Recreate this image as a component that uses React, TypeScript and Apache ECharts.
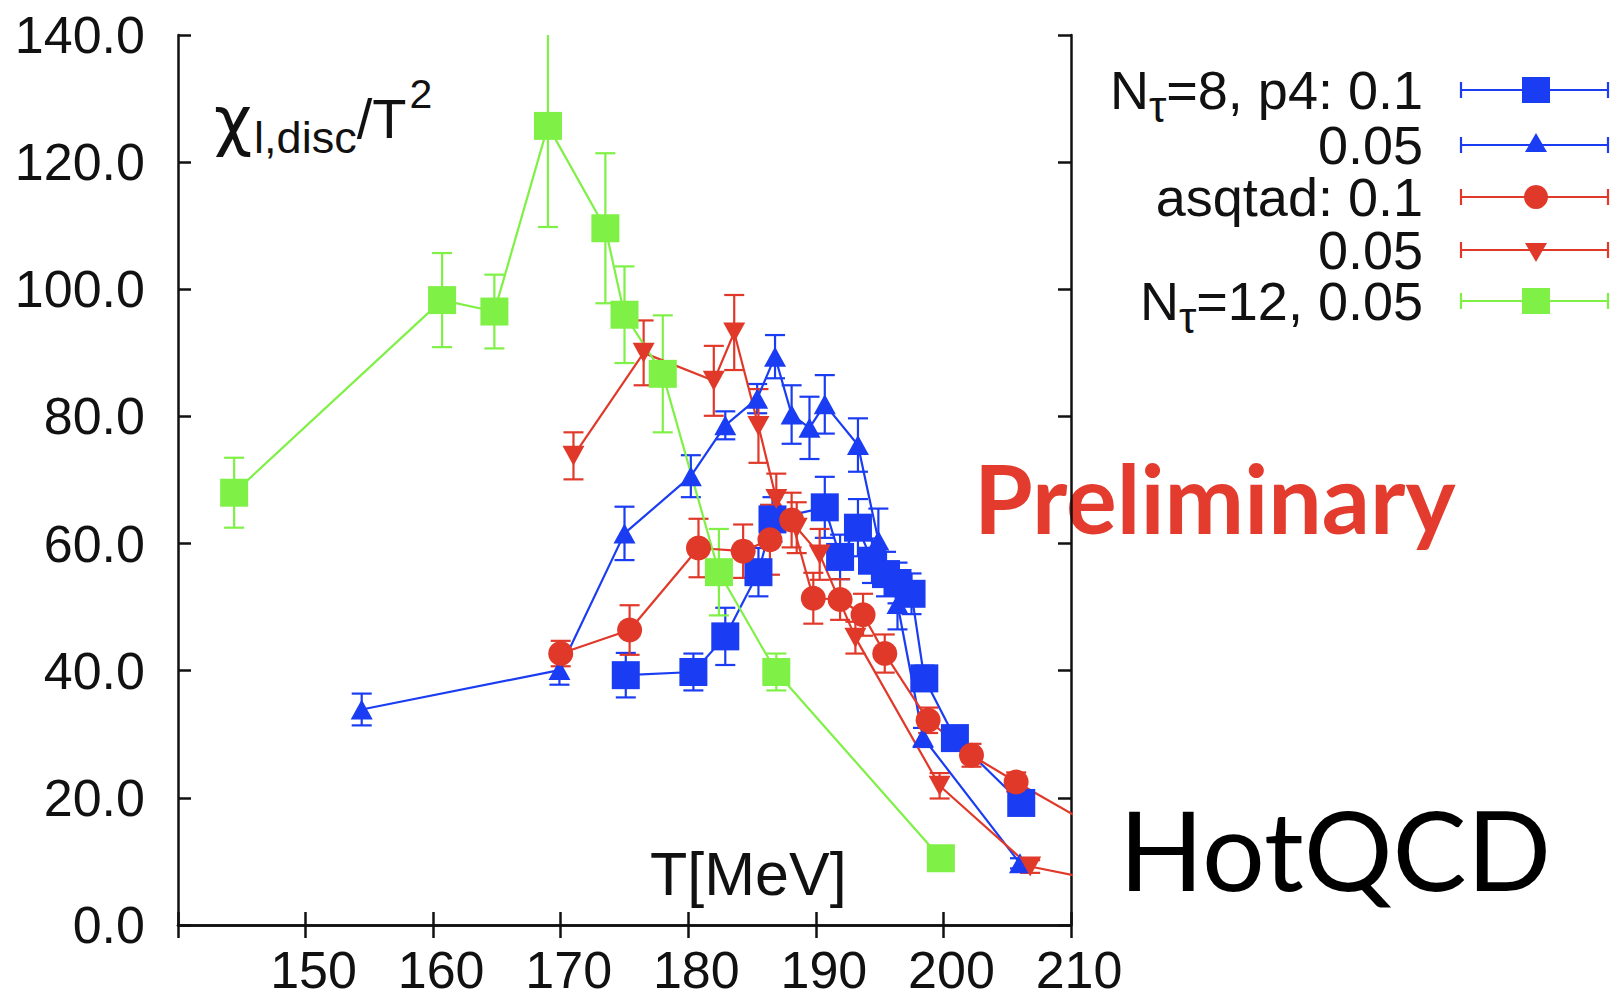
import React, { useEffect, useRef } from 'react';
import * as echarts from 'echarts';

const FONT = '"Liberation Sans", Arial, Helvetica, sans-serif';
const CHI_FONT = '"DejaVu Sans", "Liberation Sans", sans-serif';

// N_tau=8, p4, ml/ms = 0.1  (blue squares)
const p4a_T = [175.1, 180.4, 182.9, 185.5, 186.6, 190.7, 191.9, 193.3, 194.4, 195.5, 196.4, 197.5, 198.5, 200.9, 206.1];
const p4a_chi = [39.3, 39.8, 45.4, 55.5, 63.8, 65.7, 57.9, 62.5, 57.3, 55.2, 53.8, 52.1, 38.8, 29.4, 19.2];
const p4a_err = [3.5, 2.9, 4.5, 3.8, 3.5, 4.8, 3.5, 4.5, 3.5, 3.5, 3.2, 3.2, 2.0, 1.5, 1.0];

// N_tau=8, p4, ml/ms = 0.05  (blue triangles)
const p4b_T = [154.4, 169.9, 175.0, 180.2, 182.9, 185.4, 186.8, 188.1, 189.5, 190.7, 193.3, 194.9, 196.4, 198.4, 206.0];
const p4b_chi = [33.9, 40.1, 61.6, 70.6, 78.6, 82.8, 89.4, 80.3, 78.2, 81.9, 75.5, 60.5, 50.5, 29.5, 9.7];
const p4b_err = [2.5, 2.3, 4.2, 3.3, 2.2, 2.3, 3.4, 4.6, 4.9, 4.6, 4.2, 5.0, 4.0, 1.5, 0.8];

// asqtad, ml/ms = 0.1  (red circles)
const asqa_T = [170.0, 175.4, 180.8, 184.3, 186.4, 188.1, 189.8, 191.9, 193.7, 195.4, 198.8, 202.2, 205.7, 214.0];
const asqa_chi = [42.7, 46.4, 59.3, 58.8, 60.6, 63.7, 51.4, 51.2, 48.8, 42.7, 32.2, 26.7, 22.5, 13.0];
const asqa_err = [2.0, 3.9, 4.6, 4.2, 5.5, 4.3, 4.0, 3.2, 3.3, 3.0, 2.0, 1.8, 1.5, 1.0];

// asqtad, ml/ms = 0.05  (red down-triangles)
const asqb_T = [171.0, 176.5, 182.0, 183.6, 185.5, 186.9, 188.5, 190.3, 193.1, 199.7, 206.8, 214.0];
const asqb_chi = [73.8, 90.0, 85.6, 93.2, 78.5, 67.0, 62.5, 58.3, 45.2, 21.9, 9.2, 6.3];
const asqb_err = [3.7, 5.1, 5.5, 5.9, 5.8, 4.0, 4.0, 4.0, 2.5, 2.0, 1.0, 0.5];

// N_tau=12, ml/ms = 0.05  (green squares)
const n12_T = [144.4, 160.7, 164.8, 169.0, 173.5, 175.0, 178.0, 182.4, 186.9, 199.8];
const n12_chi = [68.0, 98.3, 96.5, 125.7, 109.6, 96.0, 86.7, 55.5, 39.8, 10.5];
const n12_err = [5.5, 7.4, 5.8, 15.9, 11.8, 7.6, 9.2, 6.8, 2.9, 0];

const xTicks = [140, 210, 10];
const yTicks = [0, 140, 20];

const BLUE = '#1a3cf2';
const RED = '#e0392a';
const GREEN = '#7ff046';

type Seg = { text: string; size: number; dy: number; font?: string; gap?: number };

const legendRows: Seg[][] = [
  [{ text: 'N', size: 54, dy: 0 }, { text: 'τ', size: 44, dy: 16 }, { text: '=8, p4: 0.1', size: 54, dy: 0 }],
  [{ text: '0.05', size: 54, dy: 0 }],
  [{ text: 'asqtad: 0.1', size: 54, dy: 0 }],
  [{ text: '0.05', size: 54, dy: 0 }],
  [{ text: 'N', size: 54, dy: 0 }, { text: 'τ', size: 44, dy: 16 }, { text: '=12, 0.05', size: 54, dy: 0 }],
];
const legendColors = [BLUE, BLUE, RED, RED, GREEN];
const legendSymbols = ['square', 'triangle', 'circle', 'downTriangle', 'square'];

const yLabelSegs: Seg[] = [
  { text: 'χ', size: 66, dy: 2, font: CHI_FONT, gap: 2 },
  { text: 'l,disc', size: 45, dy: 19 },
  { text: '/T', size: 56, dy: 0, gap: 3 },
  { text: '2', size: 41, dy: -24 },
];

function buildSeries(T: number[], chi: number[], err: number[], color: string, symbol: string, size: any, rotate: number, name: string) {
  const errData = T.map((t, i) => [t, chi[i], err[i]]);
  const lineData = T.map((t, i) => [t, chi[i]]);
  const errSeries = {
    type: 'custom',
    name: name + '-err',
    clip: true,
    silent: true,
    encode: { x: 0, y: 1 },
    data: errData,
    renderItem: (params: any, api: any) => {
      const x = api.value(0);
      const y = api.value(1);
      const e = api.value(2);
      if (!e) return { type: 'group', children: [] };
      const top = api.coord([x, y + e]);
      const bot = api.coord([x, y - e]);
      const hw = 10;
      const st = { stroke: color, lineWidth: 2.2 };
      return {
        type: 'group',
        children: [
          { type: 'line', shape: { x1: top[0], y1: top[1], x2: bot[0], y2: bot[1] }, style: st },
          { type: 'line', shape: { x1: top[0] - hw, y1: top[1], x2: top[0] + hw, y2: top[1] }, style: st },
          { type: 'line', shape: { x1: bot[0] - hw, y1: bot[1], x2: bot[0] + hw, y2: bot[1] }, style: st },
        ],
      };
    },
  };
  const lineSeries = {
    type: 'line',
    name,
    data: lineData,
    clip: true,
    symbol,
    symbolSize: size,
    symbolRotate: rotate,
    showSymbol: true,
    lineStyle: { color, width: 2.2 },
    itemStyle: { color, borderWidth: 0 },
    emphasis: { disabled: true },
  };
  return [errSeries, lineSeries];
}

export default function App() {
  const ref = useRef<HTMLDivElement>(null);

  useEffect(() => {
    if (!ref.current) return;
    const chart = echarts.init(ref.current, undefined, { renderer: 'svg' });
    const ctx = document.createElement('canvas').getContext('2d') as CanvasRenderingContext2D;
    const measure = (s: Seg) => {
      ctx.font = `${s.size}px ${s.font || FONT}`;
      return ctx.measureText(s.text).width + (s.gap || 0);
    };
    const textEl = (text: string, x: number, y: number, size: number, lh: number, font?: string) => ({
      type: 'text',
      x,
      y,
      silent: true,
      style: {
        text,
        fontSize: size,
        fontFamily: font || FONT,
        lineHeight: lh,
        fill: '#111',
        align: 'left',
        verticalAlign: 'middle',
        textAlign: 'left',
        textVerticalAlign: 'middle',
      },
    });
    const runTexts = (segs: Seg[], x: number, y: number, alignRight: boolean) => {
      const widths = segs.map(measure);
      const total = widths.reduce((a, b) => a + b, 0);
      let cx = alignRight ? x - total : x;
      return segs.map((s, i) => {
        const el = textEl(s.text, cx, y + s.dy, s.size, Math.round(s.size * 0.8), s.font);
        cx += widths[i];
        return el;
      });
    };

    const graphics: any[] = [];
    const rowY = [90, 145, 197, 250, 301];
    legendRows.forEach((segs, i) => {
      const y = rowY[i];
      graphics.push(...runTexts(segs, 1423, y, true));
      const c = legendColors[i];
      const st = { stroke: c, lineWidth: 2.2 };
      graphics.push({ type: 'line', silent: true, shape: { x1: 1461, y1: y, x2: 1609, y2: y }, style: st });
      graphics.push({ type: 'line', silent: true, shape: { x1: 1461, y1: y - 8, x2: 1461, y2: y + 8 }, style: st });
      graphics.push({ type: 'line', silent: true, shape: { x1: 1608, y1: y - 8, x2: 1608, y2: y + 8 }, style: st });
      const mx = 1536;
      const sym = legendSymbols[i];
      if (sym === 'square') {
        graphics.push({ type: 'rect', silent: true, shape: { x: mx - 14, y: y - 13, width: 28, height: 26 }, style: { fill: c } });
      } else if (sym === 'circle') {
        graphics.push({ type: 'circle', silent: true, shape: { cx: mx, cy: y, r: 12 }, style: { fill: c } });
      } else if (sym === 'triangle') {
        graphics.push({ type: 'polygon', silent: true, shape: { points: [[mx, y - 12], [mx - 11, y + 7], [mx + 11, y + 7]] }, style: { fill: c } });
      } else {
        graphics.push({ type: 'polygon', silent: true, shape: { points: [[mx, y + 12], [mx - 11, y - 7], [mx + 11, y - 7]] }, style: { fill: c } });
      }
    });
    graphics.push(...runTexts(yLabelSegs, 214, 118, false));
    graphics.push(textEl('T[MeV]', 650, 874, 61, 56));
    graphics.push({
      type: 'text', x: 974, y: 497, silent: true,
      style: { text: 'Preliminary', fontSize: 95, fontWeight: 'bold', fontFamily: 'Lato, "Open Sans", sans-serif', fill: '#e33b2d', align: 'left', verticalAlign: 'middle', textAlign: 'left', textVerticalAlign: 'middle' },
    });
    graphics.push({
      type: 'text', x: 1119, y: 848, silent: true,
      style: { text: 'HotQCD', fontSize: 111, fontFamily: 'Lato, "Open Sans", sans-serif', fill: '#000', align: 'left', verticalAlign: 'middle', textAlign: 'left', textVerticalAlign: 'middle' },
    });

    const axisLine = { show: true, lineStyle: { color: '#111', width: 2.5 } };
    const axisTick = { show: true, inside: true, length: 13, lineStyle: { color: '#111', width: 2.5 } };

    const series = [
      ...buildSeries(p4a_T, p4a_chi, p4a_err, BLUE, 'rect', 28, 0, 'p4 0.1'),
      ...buildSeries(p4b_T, p4b_chi, p4b_err, BLUE, 'triangle', [22, 20], 0, 'p4 0.05'),
      ...buildSeries(asqa_T, asqa_chi, asqa_err, RED, 'circle', 25, 0, 'asqtad 0.1'),
      ...buildSeries(asqb_T, asqb_chi, asqb_err, RED, 'triangle', [22, 20], 180, 'asqtad 0.05'),
      ...buildSeries(n12_T, n12_chi, n12_err, GREEN, 'rect', 28, 0, 'Nt12 0.05'),
    ];

    chart.setOption({
      animation: false,
      backgroundColor: '#fff',
      grid: { left: 178, top: 35, right: 539, bottom: 78, containLabel: false },
      xAxis: [
        {
          type: 'value', min: xTicks[0], max: xTicks[1], interval: xTicks[2], position: 'bottom',
          axisLine, axisTick, splitLine: { show: false },
          axisLabel: {
            margin: 22, fontSize: 52, lineHeight: 46, fontFamily: FONT, color: '#111', showMinLabel: true, showMaxLabel: true,
            padding: [0, 0, 0, 16],
            formatter: (v: number) => (v === xTicks[0] ? '' : String(v)),
          },
        },
        {
          type: 'value', min: xTicks[0], max: xTicks[1], interval: xTicks[2], position: 'top',
          axisLine, axisTick, splitLine: { show: false }, axisLabel: { show: false },
        },
      ],
      yAxis: [
        {
          type: 'value', min: yTicks[0], max: yTicks[1], interval: yTicks[2], position: 'left',
          axisLine, axisTick, splitLine: { show: false },
          axisLabel: {
            margin: 33, fontSize: 52, fontFamily: FONT, color: '#111', showMinLabel: true, showMaxLabel: true,
            formatter: (v: number) => v.toFixed(1),
          },
        },
        {
          type: 'value', min: yTicks[0], max: yTicks[1], interval: yTicks[2], position: 'right',
          axisLine, axisTick, splitLine: { show: false }, axisLabel: { show: false },
        },
      ],
      series,
      graphic: graphics,
    });
    return () => chart.dispose();
  }, []);

  return (
    <div
      ref={ref}
      style={{ position: 'fixed', left: 0, top: 0, width: 1610, height: 1003, background: '#fff' }}
    />
  );
}
